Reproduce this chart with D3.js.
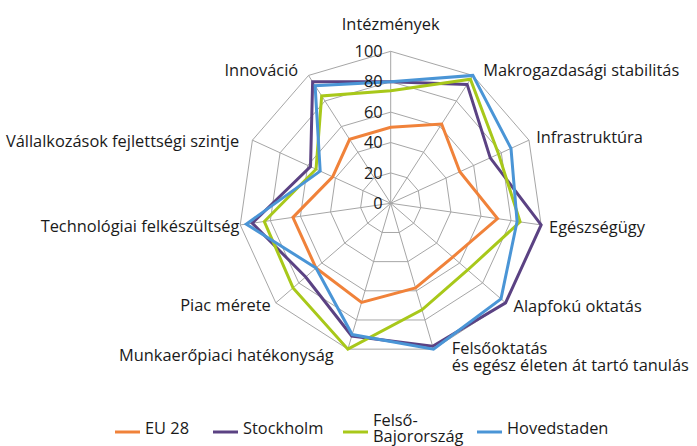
<!DOCTYPE html>
<html>
<head>
<meta charset="utf-8">
<script src="https://cdn.jsdelivr.net/npm/d3@7"></script>
<style>
  html, body { margin: 0; padding: 0; background: #fff; }
  svg { display: block; }
  text { font-family: "Open Sans", "DejaVu Sans", sans-serif; font-size: 16.4px; fill: #1a1a1a; }
</style>
</head>
<body>
<svg id="chart" width="697" height="446"></svg>
<script>
// ---- data ----
const categories = [
  ["Intézmények"],
  ["Makrogazdasági stabilitás"],
  ["Infrastruktúra"],
  ["Egészségügy"],
  ["Alapfokú oktatás"],
  ["Felsőoktatás", "és egész életen át tartó tanulás"],
  ["Munkaerőpiaci hatékonyság"],
  ["Piac mérete"],
  ["Technológiai felkészültség"],
  ["Vállalkozások fejlettségi szintje"],
  ["Innováció"]
];
const seriesNames = ["EU 28", "Stockholm", "Felső-Bajorország", "Hovedstaden"];
const legendLabels = [["EU 28"], ["Stockholm"], ["Felső-", "Bajorország"], ["Hovedstaden"]];
const eu28        = [50, 62, 50, 71, 54, 58, 68, 65, 65, 42, 50];
const stockholm   = [80, 93, 72, 100, 100, 98, 91, 74, 92, 58, 95];
const felsoBajor  = [74, 97, 78, 86, 67, 73, 100, 85, 84, 54, 84];
const hovedstaden = [80, 100, 87, 84, 96, 100, 90, 65, 96, 51, 92];
const tickValues  = [0, 20, 40, 60, 80, 100];
const colors = ["#F0823A", "#5B4283", "#A8C81A", "#4A95D6"];

// ---- layout ----
const svg = d3.select("#chart");
const cx = 390.7, cy = 203.3, R = 152;
const series = [eu28, stockholm, felsoBajor, hovedstaden];
const n = categories.length;

const r = d3.scaleLinear().domain([0, 100]).range([0, R]);
const angle = d3.scaleLinear().domain([0, n]).range([0, 2 * Math.PI]);

const g = svg.append("g").attr("transform", `translate(${cx},${cy})`);

// grid rings
const ring = d3.lineRadial()
  .angle((d, i) => angle(i))
  .radius(d => r(d))
  .curve(d3.curveLinearClosed);

tickValues.filter(t => t > 0).forEach(t => {
  g.append("path")
    .attr("d", ring(d3.range(n).map(() => t)))
    .attr("fill", "none")
    .attr("stroke", "#a6a6a6")
    .attr("stroke-width", 1);
});
// spokes
d3.range(n).forEach(i => {
  const a = angle(i);
  g.append("line")
    .attr("x1", 0).attr("y1", 0)
    .attr("x2", r(100) * Math.sin(a)).attr("y2", -r(100) * Math.cos(a))
    .attr("stroke", "#a6a6a6").attr("stroke-width", 1);
});

// series
series.forEach((vals, k) => {
  g.append("path")
    .attr("d", ring(vals))
    .attr("fill", "none")
    .attr("stroke", colors[k])
    .attr("stroke-width", 3)
    .attr("stroke-linejoin", "miter");
});

// tick labels
tickValues.forEach(t => {
  g.append("text")
    .attr("x", -8)
    .attr("y", -r(t))
    .attr("dy", "0.35em")
    .attr("text-anchor", "end")
    .text(t);
});

// category labels
const nudges = [[0, -19], [6, 2], [0, 0], [0, 1], [2, -2], [16, -9], [-12, -2], [1, -3], [7, 0], [-6, 4], [-6, 2]];
categories.forEach((lines, i) => {
  const a = angle(i);
  const s = Math.sin(a);
  const x = (r(100) + 8) * s + nudges[i][0];
  const y = -(r(100) + 8) * Math.cos(a) + nudges[i][1];
  const anchor = Math.abs(s) < 0.1 ? "middle" : (s > 0 ? "start" : "end");
  lines.forEach((ln, j) => {
    g.append("text")
      .attr("text-anchor", anchor)
      .attr("x", x).attr("y", y + j * 17.5)
      .attr("dy", "0.35em")
      .text(ln);
  });
});

// legend
const legendX = [115, 213, 343, 477];
const legY = 432;
seriesNames.forEach((name, k) => {
  const lg = svg.append("g").attr("transform", `translate(${legendX[k]},${legY})`);
  lg.append("line").attr("x1", 0).attr("x2", 25).attr("y1", 0).attr("y2", 0)
    .attr("stroke", colors[k]).attr("stroke-width", 3);
  const lines = legendLabels[k];
  if (lines.length === 1) {
    lg.append("text").attr("x", 30).attr("y", -3.5).attr("dy", "0.35em").text(lines[0]);
  } else {
    lg.append("text").attr("x", 30).attr("y", -12).attr("dy", "0.35em").text(lines[0]);
    lg.append("text").attr("x", 30).attr("y", 4.5).attr("dy", "0.35em").text(lines[1]);
  }
});
</script>
</body>
</html>
